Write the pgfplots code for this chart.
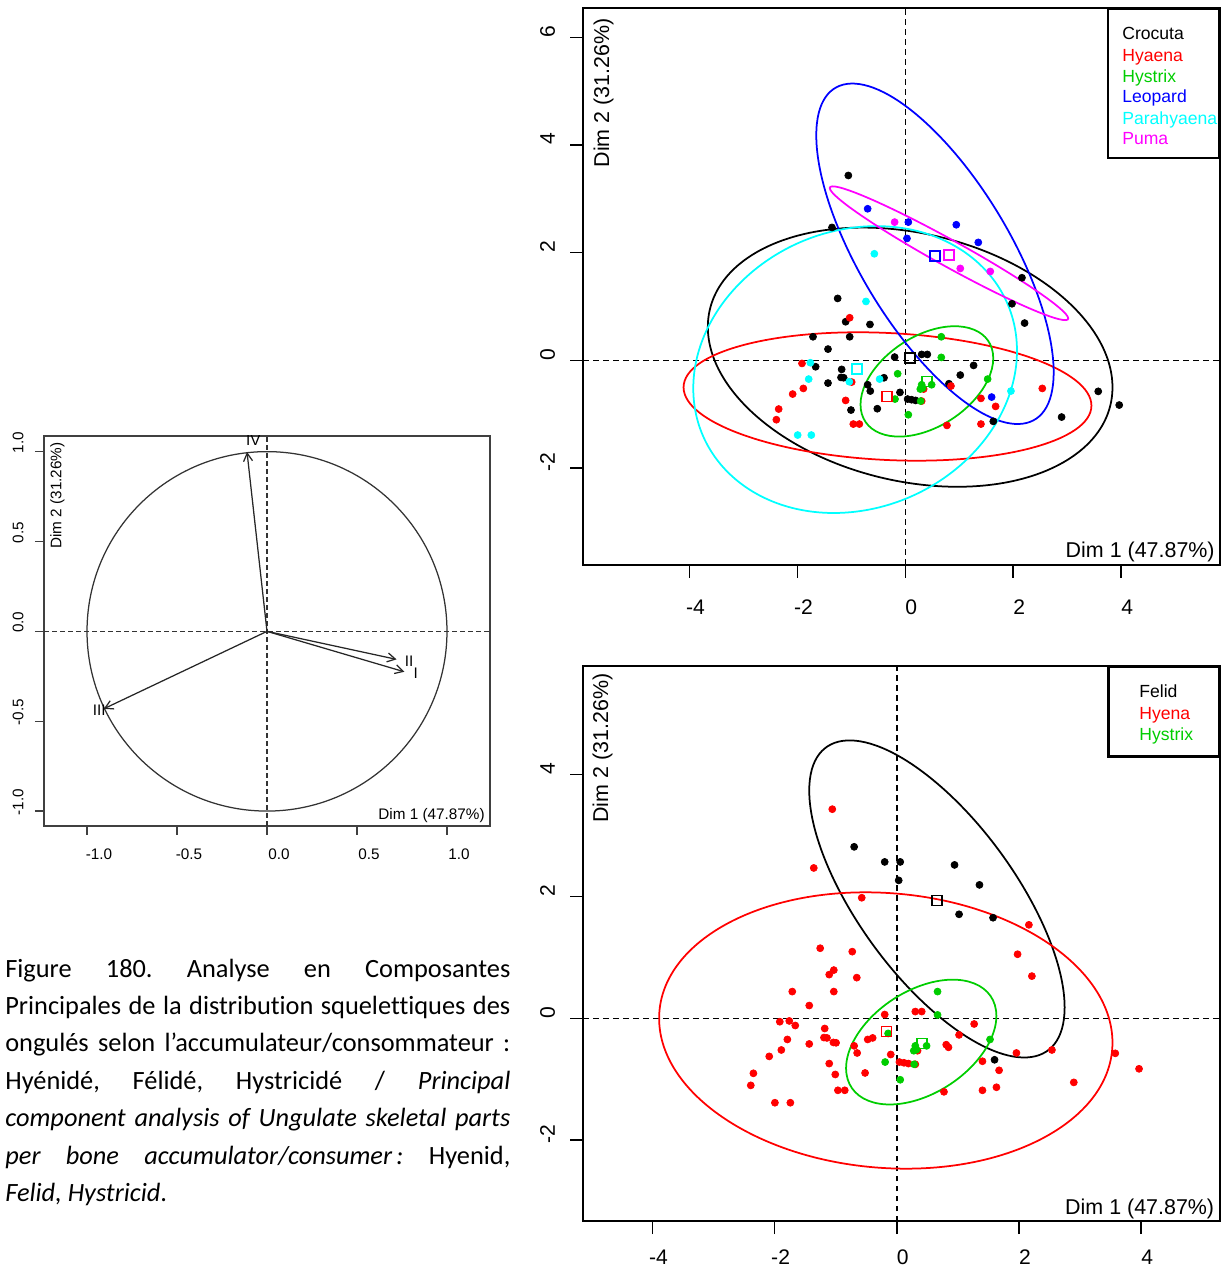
\documentclass[border=0pt]{standalone}
\usepackage{pgfplots}
\pgfplotsset{compat=1.18}
\usepackage{pgfplotstable}
\usepackage{fontspec}
\setmainfont{Liberation Sans}
\newfontfamily\carlito[Ligatures=NoCommon]{Carlito}
\usetikzlibrary{arrows.meta}

\definecolor{rred}{RGB}{255,0,0}
\definecolor{rgreen}{RGB}{0,205,0}
\definecolor{rblue}{RGB}{0,0,255}
\definecolor{rcyan}{RGB}{0,255,255}
\definecolor{rmag}{RGB}{255,0,255}

% individual scores on Dim 1 / Dim 2, one table per group
\pgfplotstableread{
x y
-1.056 3.434
-1.359 2.469
2.162 1.535
1.977 1.052
2.211 0.693
-1.254 1.151
-1.106 0.718
-0.655 0.668
-1.711 0.439
-1.031 0.439
-1.433 0.210
-1.662 -0.118
-1.180 -0.167
-1.192 -0.316
-1.143 -0.322
-1.433 -0.421
-0.698 -0.452
-0.649 -0.569
-1.007 -0.922
-0.519 -0.897
-0.395 -0.322
-0.198 0.062
0.303 0.111
0.408 0.111
-0.099 -0.594
0.043 -0.718
0.117 -0.730
0.191 -0.743
0.809 -0.433
1.019 -0.272
1.266 -0.093
3.576 -0.575
3.965 -0.829
2.897 -1.052
1.631 -1.132
}\crocuta
\pgfplotstableread{
x y
-1.031 0.792
-1.915 -0.056
-1.890 -0.520
-2.088 -0.625
-2.347 -0.903
-2.390 -1.101
-1.106 -0.743
-0.964 -1.182
-0.852 -1.182
-0.994 -0.402
0.340 -0.532
0.303 -0.755
0.846 -0.476
1.402 -0.705
1.674 -0.854
1.402 -1.182
0.772 -1.207
2.539 -0.520
}\hyaena
\pgfplotstableread{
x y
0.667 0.439
0.667 0.056
-0.142 -0.248
0.303 -0.452
0.321 -0.514
0.278 -0.532
0.488 -0.452
-0.191 -0.718
0.284 -0.755
0.056 -1.009
1.526 -0.347
}\hystrix
\pgfplotstableread{
x y
-0.698 2.816
0.056 2.568
0.031 2.265
0.945 2.519
1.353 2.191
1.600 -0.681
}\leopard
\pgfplotstableread{
x y
-0.574 1.980
-0.729 1.095
-1.760 -0.043
-1.791 -0.347
-1.038 -0.396
-0.476 -0.347
-1.995 -1.386
-1.742 -1.386
1.958 -0.569
}\parahyaena
\pgfplotstableread{
x y
-0.198 2.568
1.019 1.708
1.575 1.652
}\puma

% confidence ellipse: style, centre x, centre y, rightmost offset (a,b), vertical half chord d
\newcommand{\confell}[6]{\pgfplotsextra{\begin{scope}[#1]%
  \pgfpathellipse{\pgfplotspointaxisxy{#2}{#3}}{\pgfplotspointaxisdirectionxy{#4}{#5}}{\pgfplotspointaxisdirectionxy{0}{#6}}%
  \pgfusepath{stroke}\end{scope}}}

\tikzset{ell/.style={line width=0.35mm}}
\pgfplotsset{
  rbase/.style={scale only axis, anchor=south west,
    axis line style={line width=0.4mm},
    tick align=outside, major tick length=2.6mm,
    every tick/.style={black, line width=0.3mm},
    xtick pos=left, ytick pos=left,
    xticklabel style={anchor=center, xshift=1.2mm, font=\fontsize{12}{14}\selectfont},
    yticklabel style={anchor=center, rotate=90, xshift=1.2mm, font=\fontsize{12}{14}\selectfont},
    xticklabel shift=5.9mm, yticklabel shift=4.5mm},
  pts/.style={only marks, mark=*, mark size=0.7mm},
  bary/.style={only marks, mark=square, mark size=1mm, mark options={line width=0.3mm}},
  zero/.style={line width=0.3mm, dash pattern=on 1.1mm off 0.9mm, black}
}

\begin{document}
\begin{tikzpicture}
\useasboundingbox (0,0) rectangle (244.2mm,254mm);

% correlation circle
\begin{axis}[scale only axis, anchor=south west, at={(8.8mm,88.8mm)}, width=89.2mm, height=78mm,
  xmin=-1.239, xmax=1.239, ymin=-1.083, ymax=1.087,
  axis line style={line width=0.25mm, black!75},
  tick align=outside, major tick length=1.8mm, every tick/.style={black!75, line width=0.25mm},
  xtick pos=left, ytick pos=left,
  xtick={-1,-0.5,0,0.5,1}, xticklabels={-1.0,-0.5,0.0,0.5,1.0},
  ytick={-1,-0.5,0,0.5,1}, yticklabels={-1.0,-0.5,0.0,0.5,1.0},
  xticklabel style={anchor=center, xshift=2.4mm, font=\fontsize{8.7}{10}\selectfont},
  yticklabel style={anchor=center, rotate=90, xshift=1.8mm, font=\fontsize{8.7}{10}\selectfont},
  xticklabel shift=3.8mm, yticklabel shift=3.4mm]
\addplot[line width=0.25mm, dash pattern=on 0.9mm off 0.7mm, black!80] coordinates {(-1.239,0) (1.239,0)};
\addplot[line width=0.25mm, dash pattern=on 0.9mm off 0.7mm, black!80] coordinates {(0,-1.083) (0,1.087)};
\confell{line width=0.25mm, black!80}{0}{0}{1}{0}{1}
\addplot[line width=0.25mm, black!85, -{Straight Barb[length=1.6mm, width=1.8mm]}] coordinates {(0,0) (0.763,-0.225)};
\addplot[line width=0.25mm, black!85, -{Straight Barb[length=1.6mm, width=1.8mm]}] coordinates {(0,0) (0.720,-0.156)};
\addplot[line width=0.25mm, black!85, -{Straight Barb[length=1.6mm, width=1.8mm]}] coordinates {(0,0) (-0.907,-0.431)};
\addplot[line width=0.25mm, black!85, -{Straight Barb[length=1.6mm, width=1.8mm]}] coordinates {(0,0) (-0.111,0.998)};
\node[font=\fontsize{8.7}{10}\selectfont] at (axis cs:0.826,-0.234) {I};
\node[font=\fontsize{8.7}{10}\selectfont] at (axis cs:0.790,-0.164) {II};
\node[font=\fontsize{8.7}{10}\selectfont] at (axis cs:-0.932,-0.438) {III};
\node[font=\fontsize{8.7}{10}\selectfont] at (axis cs:-0.076,1.065) {IV};
\node[anchor=base east, inner sep=0pt, font=\fontsize{8.7}{10}\selectfont] at ([xshift=-1mm, yshift=1.3mm]rel axis cs:1,0) {Dim 1 (47.87\%)};
\node[rotate=90, anchor=base east, inner sep=0pt, font=\fontsize{8.7}{10}\selectfont] at ([xshift=3.5mm, yshift=-1.2mm]rel axis cs:0,1) {Dim 2 (31.26\%)};
\end{axis}

% individuals by species
\begin{axis}[rbase, at={(116.6mm,141mm)}, width=127.3mm, height=111.3mm,
  xmin=-5.974, xmax=5.824, ymin=-3.799, ymax=6.535,
  xtick={-4,-2,0,2,4}, xticklabels={-4,-2,0,2,4},
  ytick={-2,0,2,4,6}, yticklabels={-2,0,2,4,6}]
\addplot[zero] coordinates {(-5.974,0) (5.824,0)};
\addplot[zero] coordinates {(0,-3.799) (0,6.535)};
\addplot[pts, black] table {\crocuta};
\addplot[pts, rred] table {\hyaena};
\addplot[pts, rgreen] table {\hystrix};
\addplot[pts, rblue] table {\leopard};
\addplot[pts, rcyan] table {\parahyaena};
\addplot[pts, rmag] table {\puma};
\addplot[bary, black] coordinates {(0.086,0.045)};
\addplot[bary, rred] coordinates {(-0.335,-0.670)};
\addplot[bary, rgreen] coordinates {(0.400,-0.390)};
\addplot[bary, rblue] coordinates {(0.550,1.937)};
\addplot[bary, rcyan] coordinates {(-0.896,-0.161)};
\addplot[bary, rmag] coordinates {(0.809,1.962)};
\confell{ell, black}{0.09}{0.06}{3.75}{-0.56}{2.34}
\confell{ell, rred}{-0.33}{-0.67}{3.78}{-0.17}{1.18}
\confell{ell, rgreen}{0.40}{-0.39}{1.23}{0.43}{0.93}
\confell{ell, rblue}{0.55}{1.98}{2.20}{-2.20}{2.27}
\confell{ell, rcyan}{-0.93}{-0.17}{3.00}{0.35}{2.64}
\confell{ell, rmag}{0.81}{1.99}{2.21}{-1.21}{0.28}
\node[anchor=base east, inner sep=0pt, font=\fontsize{12.2}{14}\selectfont] at ([xshift=-0.9mm, yshift=1.4mm]rel axis cs:1,0) {Dim 1 (47.87\%)};
\node[rotate=90, anchor=base east, inner sep=0pt, font=\fontsize{12.2}{14}\selectfont] at ([xshift=5.2mm, yshift=-1.9mm]rel axis cs:0,1) {Dim 2 (31.26\%)};
\end{axis}

% individuals by family
\begin{axis}[rbase, at={(116.6mm,9.8mm)}, width=127.3mm, height=111.06mm,
  xmin=-5.136, xmax=5.282, ymin=-3.328, ymax=5.79,
  xtick={-4,-2,0,2,4}, xticklabels={-4,-2,0,2,4},
  ytick={-2,0,2,4}, yticklabels={-2,0,2,4},
  xticklabel shift=4.7mm]
\addplot[zero] coordinates {(-5.136,0) (5.282,0)};
\addplot[zero] coordinates {(0,-3.328) (0,5.79)};
\addplot[pts, rred] table {\crocuta};
\addplot[pts, rred] table {\hyaena};
\addplot[pts, rred] table {\parahyaena};
\addplot[pts, black] table {\leopard};
\addplot[pts, black] table {\puma};
\addplot[pts, rgreen] table {\hystrix};
\addplot[bary, black] coordinates {(0.657,1.932)};
\addplot[bary, rred] coordinates {(-0.166,-0.219)};
\addplot[bary, rgreen] coordinates {(0.410,-0.410)};
\confell{ell, black}{0.657}{1.96}{2.09}{-1.78}{1.90}
\confell{ell, rred}{-0.18}{-0.20}{3.71}{-0.20}{2.26}
\confell{ell, rgreen}{0.40}{-0.39}{1.23}{0.43}{0.93}
\node[anchor=base east, inner sep=0pt, font=\fontsize{12.2}{14}\selectfont] at ([xshift=-1mm, yshift=1.3mm]rel axis cs:1,0) {Dim 1 (47.87\%)};
\node[rotate=90, anchor=base east, inner sep=0pt, font=\fontsize{12.2}{14}\selectfont] at ([xshift=5mm, yshift=-1.5mm]rel axis cs:0,1) {Dim 2 (31.26\%)};
\end{axis}

% legends
\draw[line width=0.5mm] (221.6mm,252.2mm) rectangle (243.9mm,222.4mm);
\begin{scope}[every node/.style={anchor=base west, inner sep=0pt, font=\fontsize{10}{12}\selectfont}]
\node[text=black] at (224.4mm,246.0mm) {Crocuta};
\node[text=rred] at (224.4mm,241.6mm) {Hyaena};
\node[text=rgreen] at (224.4mm,237.4mm) {Hystrix};
\node[text=rblue] at (224.4mm,233.4mm) {Leopard};
\node[text=rcyan] at (224.4mm,229.0mm) {Parahyaena};
\node[text=rmag] at (224.4mm,225.0mm) {Puma};
\end{scope}
\draw[line width=0.5mm] (221.7mm,120.7mm) rectangle (243.9mm,102.7mm);
\begin{scope}[every node/.style={anchor=base west, inner sep=0pt, font=\fontsize{10}{12}\selectfont}]
\node[text=black] at (227.8mm,114.4mm) {Felid};
\node[text=rred] at (227.8mm,110.0mm) {Hyena};
\node[text=rgreen] at (227.8mm,105.8mm) {Hystrix};
\end{scope}

% caption
\node[anchor=base west, inner sep=0pt, text width=101mm, align=justify,
  font=\carlito\fontsize{15}{21.25}\selectfont] at (1mm,58.54mm)
  {\frenchspacing\hyphenpenalty=10000 \tolerance=10000 \hbadness=10000
  Figure 180. Analyse en Composantes\linebreak
  Principales de la distribution squelettiques des\linebreak
  ongulés selon l’accumulateur/consommateur :\linebreak
  Hyénidé, Félidé, Hystricidé / \textit{Principal}\linebreak
  \textit{component analysis of Ungulate skeletal parts}\linebreak
  \textit{per bone accumulator/consumer\,:} Hyenid,\linebreak
  \textit{Felid, Hystricid}.};
\end{tikzpicture}
\end{document}
